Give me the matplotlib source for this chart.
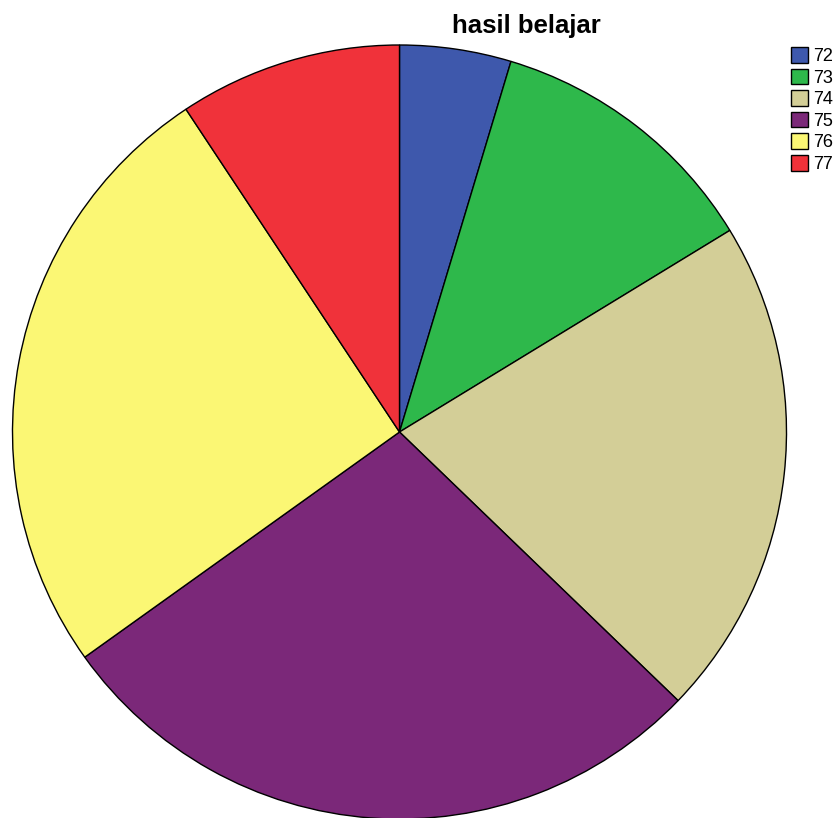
import matplotlib.pyplot as plt

# frekuensi hasil belajar
labels = ["72", "73", "74", "75", "76", "77"]
counts = [2, 5, 9, 12, 11, 4]
colors = ["#3e58ac", "#2eb84b", "#d3ce97", "#7b2879", "#fbf774", "#f0323a"]

W, H = 837, 818
fig = plt.figure(figsize=(W / 100, H / 100), dpi=100)
fig.patch.set_facecolor("white")
ax = fig.add_axes([0, 0, 1, 1])

wedges, _ = ax.pie(counts, colors=colors, startangle=90, counterclock=False,
                   center=(399.5, H - 432), radius=387, frame=True,
                   wedgeprops=dict(edgecolor="black", linewidth=1.0))
ax.set_xlim(0, W)
ax.set_ylim(0, H)
ax.set_aspect("equal")
ax.axis("off")

fig.text(526 / W, 1 - 33 / H, "hasil belajar", ha="center", va="baseline",
         fontsize=18.5, fontweight="bold", family="Liberation Sans")

leg = fig.legend(wedges, labels, loc="upper left",
                 bbox_to_anchor=(791 / W, 1 - 47 / H), frameon=False,
                 prop=dict(family="Liberation Sans", size=13),
                 handlelength=0.95, handleheight=0.95, handletextpad=0.28,
                 labelspacing=0.2, borderpad=0, borderaxespad=0)
for h in leg.legend_handles:
    h.set_edgecolor("black")
    h.set_linewidth(1.0)

fig.savefig("out.png", dpi=100, facecolor="white")
